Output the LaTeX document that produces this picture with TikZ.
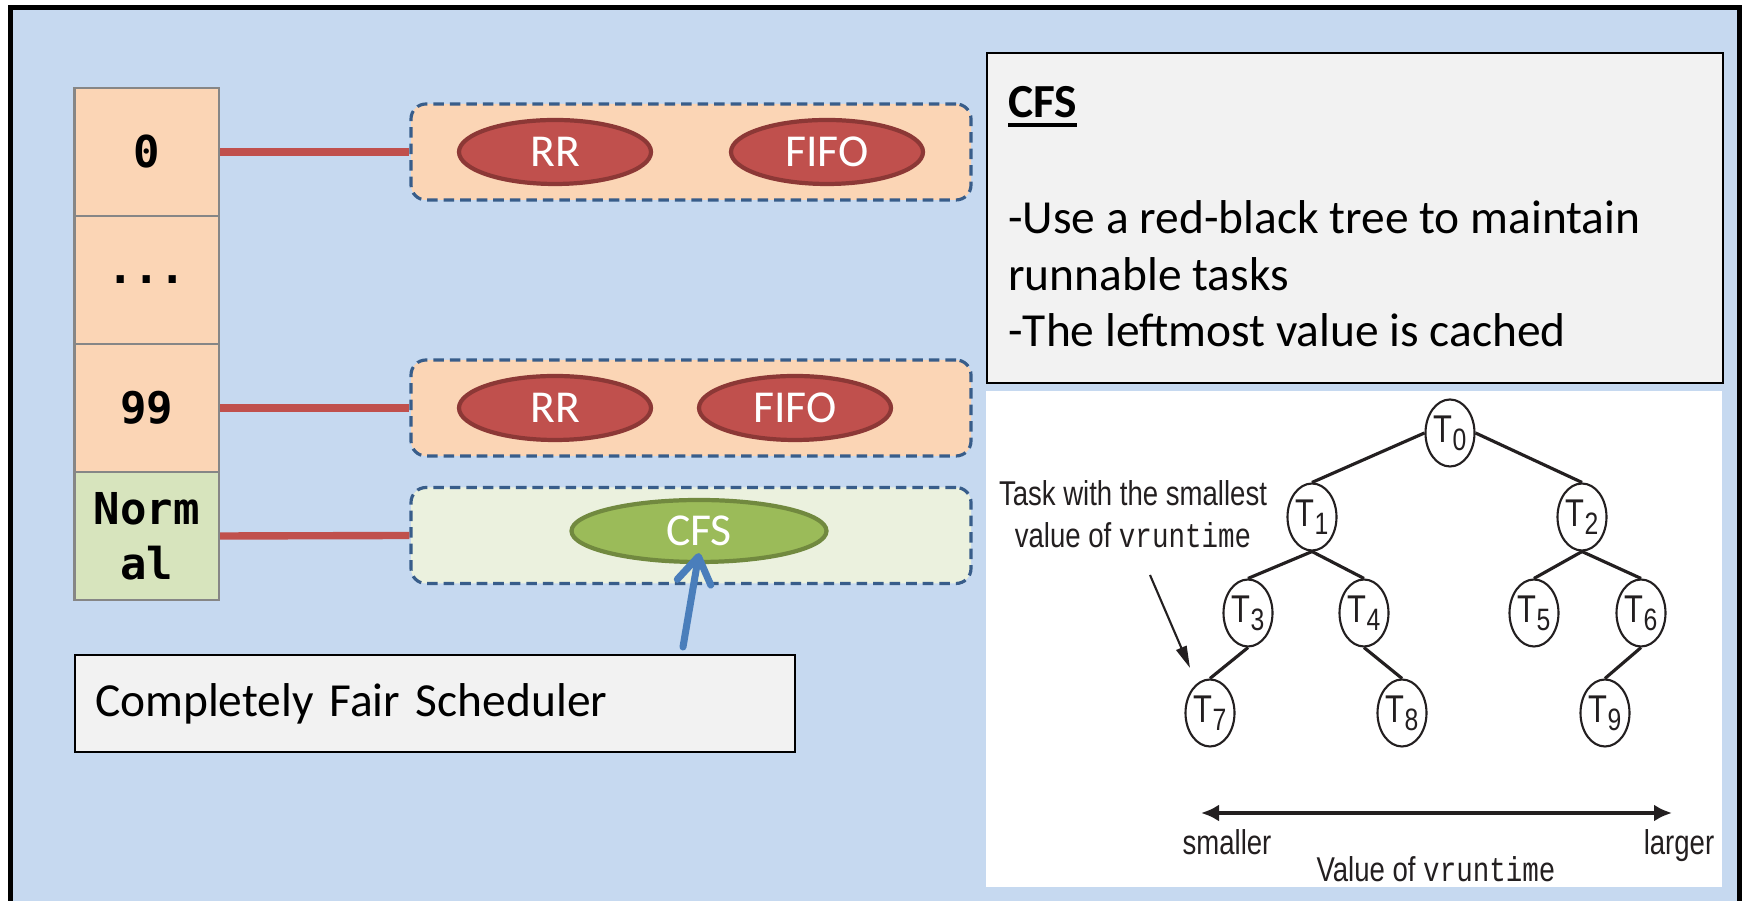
\documentclass[tikz,border=0pt]{standalone}
\usepackage{fontspec}
\setmainfont{Carlito}
\newfontfamily\cellfont{DejaVu Sans Mono}
\newfontfamily\treefont{Liberation Sans}[FakeStretch=0.8]
\newfontfamily\treemono{Liberation Mono}[FakeStretch=0.8]
\usetikzlibrary{shapes.geometric, positioning, arrows.meta, calc}

\definecolor{slideblue}{HTML}{C6D9F0}
\definecolor{peach}{HTML}{FBD5B5}
\definecolor{palegreen}{HTML}{D7E4BD}
\definecolor{lightgreen}{HTML}{EBF1DE}
\definecolor{cellgray}{HTML}{868686}
\definecolor{dashblue}{HTML}{385D8A}
\definecolor{linkred}{HTML}{C0504D}
\definecolor{darkred}{HTML}{8C3836}
\definecolor{olive}{HTML}{9BBB59}
\definecolor{darkolive}{HTML}{71893F}
\definecolor{arrowblue}{HTML}{4A7EBB}
\definecolor{notegray}{HTML}{F2F2F2}
\definecolor{treeink}{HTML}{231F20}

\newcommand{\headline}[1]{\vtop{\hbox{#1}\kern1.3pt\hrule height 1.1pt}}
\newcommand{\tlabel}[1]{T\raisebox{-2.3pt}{\fontsize{8.8}{8.8}\selectfont#1}}

\begin{document}
\begin{tikzpicture}[
    >=Latex, thick,
    prio/.style={draw=cellgray, line width=0.6pt, fill=peach, minimum width=1.445cm, minimum height=1.28cm, align=center, inner sep=0pt, font=\cellfont\bfseries\fontsize{12.5}{15.6}\selectfont},
    queue/.style={draw=dashblue, dash pattern=on 3pt off 1.7pt, line width=0.9pt, rounded corners=0.15cm, minimum width=5.6cm, minimum height=0.96cm},
    policy/.style={ellipse, draw=darkred, fill=linkred, line width=1.2pt, minimum width=1.92cm, minimum height=0.64cm, inner sep=0pt, text=white, font=\fontsize{13}{13}\selectfont},
    link/.style={draw=linkred, line width=2.1pt},
    note/.style={draw=black, fill=notegray, line width=0.8pt},
    infotext/.style={inner sep=0pt, font=\fontsize{13.5}{16.2}\selectfont},
    treenode/.style={ellipse, draw=treeink, fill=white, line width=0.6pt, minimum width=0.49cm, minimum height=0.67cm, inner sep=0pt, text=treeink, font=\treefont\fontsize{11}{11}\selectfont},
    treeedge/.style={draw=treeink, line width=0.9pt},
    treetext/.style={inner sep=0pt, text=treeink, font=\treefont\fontsize{9.8}{11.9}\selectfont}
]
\useasboundingbox (0,0) rectangle (17.43,9.01);
\draw[fill=slideblue, line width=1.4pt] (0.105,-0.5) rectangle (17.395,8.935);

% priority array
\node[prio] (P0) at (1.4675,7.49) {0};
\node[prio] (Pdots) at (1.4675,6.21) {...};
\node[prio] (P99) at (1.4675,4.93) {99};
\node[prio, fill=palegreen] (PNormal) at (1.4675,3.65) {Norm\\al};

% run queues
\node[queue, fill=peach] (Q0) at (6.91,7.49) {};
\node[queue, fill=peach] (Q99) at (6.91,4.93) {};
\node[queue, fill=lightgreen] (QNormal) at (6.91,3.655) {};
\draw[link] (P0.east) -- (Q0.west);
\draw[link] (P99.east) -- (Q99.west);
\draw[link] (PNormal.east) -- (QNormal.west);

\node[policy] (RR0) at (5.55,7.49) {RR};
\node[policy] (FIFO0) at (8.27,7.49) {FIFO};
\node[policy] (RR99) at (5.55,4.93) {RR};
\node[policy] (FIFO99) at (7.95,4.93) {FIFO};
\node[policy, draw=darkolive, fill=olive, minimum width=2.55cm, minimum height=0.62cm] (CFS) at (6.99,3.70) {CFS};

\node[note, minimum width=7.2cm, minimum height=0.97cm, text width=6.8cm, align=left, inner xsep=0.2cm, font=\fontsize{13.5}{16.2}\selectfont] (SchedNote) at (4.35,1.975) {Completely Fair Scheduler};
\coordinate (SchedTail) at (6.83,2.54);
\draw[draw=arrowblue, line width=2pt, line cap=round, -{Straight Barb[round, length=2.6mm, width=3.4mm]}] (SchedTail) -- ([yshift=0.11cm]CFS.south);

% CFS notes
\node[note, minimum width=7.36cm, minimum height=3.30cm] (Info) at (13.55,6.83) {};
\node[infotext, anchor=base west] (InfoHead) at (10.07,7.83) {\bfseries\headline{CFS}};
\node[infotext, anchor=base west, align=left] (InfoBody) at (10.07,5.54) {-Use a red-black tree to maintain\\runnable tasks\\-The leftmost value is cached};

% red-black tree
\node[fill=white, minimum width=7.36cm, minimum height=4.96cm, inner sep=0pt] (TreePanel) at (13.54,2.62) {};
\node[treenode] (T0) at (14.50,4.68) {\tlabel{0}};
\node[treenode] (T1) at (13.12,3.84) {\tlabel{1}};
\node[treenode] (T2) at (15.82,3.84) {\tlabel{2}};
\node[treenode] (T3) at (12.48,2.88) {\tlabel{3}};
\node[treenode] (T4) at (13.64,2.88) {\tlabel{4}};
\node[treenode] (T5) at (15.34,2.88) {\tlabel{5}};
\node[treenode] (T6) at (16.41,2.88) {\tlabel{6}};
\node[treenode] (T7) at (12.10,1.88) {\tlabel{7}};
\node[treenode] (T8) at (14.02,1.88) {\tlabel{8}};
\node[treenode] (T9) at (16.05,1.88) {\tlabel{9}};
\draw[treeedge] (T0.west) -- (T1.north);
\draw[treeedge] (T0.east) -- (T2.north);
\draw[treeedge] (T1.south) -- (T3.north);
\draw[treeedge] (T1.south) -- (T4.north);
\draw[treeedge] (T2.south) -- (T5.north);
\draw[treeedge] (T2.south) -- (T6.north);
\draw[treeedge] (T3.south) -- (T7.north);
\draw[treeedge] (T4.south) -- (T8.north);
\draw[treeedge] (T6.south) -- (T9.north);

\node[treetext, align=center] (MinNote) at (11.33,3.87) {Task with the smallest\\value of {\treemono vruntime}};
\coordinate (MinTail) at (11.50,3.26);
\draw[draw=treeink, line width=0.6pt, -{Triangle[length=2.2mm, width=1.1mm]}] (MinTail) -- ([xshift=-0.2cm, yshift=0.45cm]T7.center);

\coordinate (ScaleL) at (12.01,0.88);
\coordinate (ScaleR) at (16.72,0.88);
\draw[draw=treeink, line width=1.3pt, {Latex[length=1.8mm, width=1.7mm]}-{Latex[length=1.8mm, width=1.7mm]}] (ScaleL) -- (ScaleR);
\node[treetext, anchor=base] (Smaller) at (12.27,0.46) {smaller};
\node[treetext, anchor=base] (Larger) at (16.79,0.46) {larger};
\node[treetext, anchor=base] (ScaleName) at (14.36,0.19) {Value of {\treemono vruntime}};
\end{tikzpicture}
\end{document}
